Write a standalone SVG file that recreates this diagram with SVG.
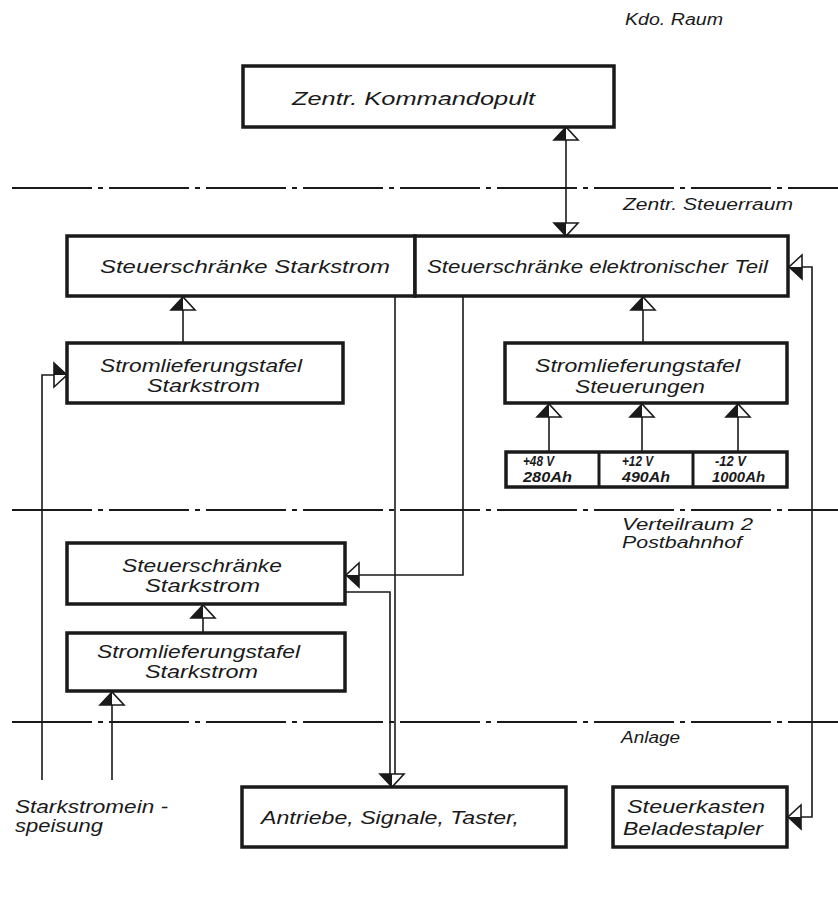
<svg xmlns="http://www.w3.org/2000/svg" xmlns:xlink="http://www.w3.org/1999/xlink" width="838" height="904" viewBox="0 0 838 904">
<style>
.bg{fill:#ffffff}
.box{fill:#ffffff;stroke:#1a1a1a;stroke-width:3.5}
.div{fill:none;stroke:#1a1a1a;stroke-width:3}
.ln{fill:none;stroke:#1a1a1a;stroke-width:1.6}
.dd{fill:none;stroke:#1a1a1a;stroke-width:2.2;stroke-dasharray:80 6 5 6}
.t{font-family:"Liberation Sans",Arial,sans-serif;font-style:italic;fill:#1a1a1a;font-size:19px}
.s{font-size:16px}
.b{font-family:"Liberation Sans",Arial,sans-serif;font-style:italic;font-weight:bold;fill:#1a1a1a;font-size:14px}
</style>
<defs>
<g id="ahUp">
<polygon points="0,0 -12,13 12,13" fill="#ffffff" stroke="#1a1a1a" stroke-width="1.6" stroke-linejoin="miter"/>
<polygon points="0,0 -12,13 0,13" fill="#1a1a1a"/>
</g>
</defs>
<rect class="bg" x="0" y="0" width="838" height="904"/>

<g id="zones">
<line class="dd" x1="12" y1="188" x2="838" y2="188"/>
<line class="dd" x1="12" y1="510" x2="838" y2="510"/>
<line class="dd" x1="12" y1="722" x2="838" y2="722"/>
<text class="t s" x="625" y="25" textLength="98" lengthAdjust="spacingAndGlyphs">Kdo. Raum</text>
<text class="t s" x="623" y="210" textLength="170" lengthAdjust="spacingAndGlyphs">Zentr. Steuerraum</text>
<text class="t s" x="622" y="530" textLength="131" lengthAdjust="spacingAndGlyphs">Verteilraum 2</text>
<text class="t s" x="622" y="548" textLength="120" lengthAdjust="spacingAndGlyphs">Postbahnhof</text>
<text class="t s" x="621" y="743" textLength="59" lengthAdjust="spacingAndGlyphs">Anlage</text>
</g>

<g id="connectors">
<line class="ln" x1="566" y1="135" x2="566" y2="228"/>
<use xlink:href="#ahUp" transform="translate(566,127)"/>
<use xlink:href="#ahUp" transform="translate(566,236) scale(1,-1)"/>
<line class="ln" x1="183" y1="343" x2="183" y2="305"/>
<use xlink:href="#ahUp" transform="translate(183,297)"/>
<polyline class="ln" points="42,780 42,375 58,375"/>
<use xlink:href="#ahUp" transform="translate(67,375) rotate(90)"/>
<line class="ln" x1="643" y1="343" x2="643" y2="305"/>
<use xlink:href="#ahUp" transform="translate(643,297)"/>
<line class="ln" x1="549" y1="452" x2="549" y2="412"/>
<use xlink:href="#ahUp" transform="translate(549,404)"/>
<line class="ln" x1="642" y1="452" x2="642" y2="412"/>
<use xlink:href="#ahUp" transform="translate(642,404)"/>
<line class="ln" x1="738" y1="452" x2="738" y2="412"/>
<use xlink:href="#ahUp" transform="translate(738,404)"/>
<polyline class="ln" points="797,267 812,267 812,817 797,817"/>
<use xlink:href="#ahUp" transform="translate(789,267) rotate(-90)"/>
<use xlink:href="#ahUp" transform="translate(788,817) rotate(-90)"/>
<polyline class="ln" points="463,297 463,575 355,575"/>
<use xlink:href="#ahUp" transform="translate(346,575) rotate(-90)"/>
<line class="ln" x1="395" y1="297" x2="395" y2="774"/>
<polyline class="ln" points="346,592 390,592 390,774"/>
<use xlink:href="#ahUp" transform="translate(392,787) scale(1,-1)"/>
<line class="ln" x1="203" y1="633" x2="203" y2="613"/>
<use xlink:href="#ahUp" transform="translate(203,605)"/>
<line class="ln" x1="112" y1="780" x2="112" y2="700"/>
<use xlink:href="#ahUp" transform="translate(112,692)"/>
</g>

<g id="n-kommandopult">
<rect class="box" x="243" y="66" width="371" height="61"/>
<text class="t" x="292" y="105" font-size="21" textLength="243" lengthAdjust="spacingAndGlyphs">Zentr. Kommandopult</text>
</g>

<g id="n-steuerschraenke-starkstrom">
<rect class="box" x="67" y="236" width="348" height="60"/>
<text class="t" x="100" y="273" textLength="290" lengthAdjust="spacingAndGlyphs">Steuerschränke Starkstrom</text>
</g>

<g id="n-steuerschraenke-elektronisch">
<rect class="box" x="415" y="236" width="373" height="60"/>
<text class="t" x="427" y="273" textLength="341" lengthAdjust="spacingAndGlyphs">Steuerschränke elektronischer Teil</text>
</g>

<g id="n-slt-starkstrom-1">
<rect class="box" x="67" y="343" width="276" height="60"/>
<text class="t" x="100" y="372" textLength="202" lengthAdjust="spacingAndGlyphs">Stromlieferungstafel</text>
<text class="t" x="147" y="392" textLength="113" lengthAdjust="spacingAndGlyphs">Starkstrom</text>
</g>

<g id="n-slt-steuerungen">
<rect class="box" x="505" y="343" width="282" height="60"/>
<text class="t" x="535" y="372" textLength="205" lengthAdjust="spacingAndGlyphs">Stromlieferungstafel</text>
<text class="t" x="575" y="393" textLength="130" lengthAdjust="spacingAndGlyphs">Steuerungen</text>
</g>

<g id="n-batterien">
<rect class="box" x="506" y="452" width="281" height="35"/>
<line class="div" x1="599" y1="452" x2="599" y2="487"/>
<line class="div" x1="693" y1="452" x2="693" y2="487"/>
<text class="b" x="523" y="466" textLength="31" lengthAdjust="spacingAndGlyphs">+48 V</text>
<text class="b" x="523" y="482" textLength="49" lengthAdjust="spacingAndGlyphs">280Ah</text>
<text class="b" x="622" y="466" textLength="31" lengthAdjust="spacingAndGlyphs">+12 V</text>
<text class="b" x="622" y="482" textLength="48" lengthAdjust="spacingAndGlyphs">490Ah</text>
<text class="b" x="715" y="466" textLength="31" lengthAdjust="spacingAndGlyphs">-12 V</text>
<text class="b" x="712" y="482" textLength="53" lengthAdjust="spacingAndGlyphs">1000Ah</text>
</g>

<g id="n-steuerschraenke-starkstrom-2">
<rect class="box" x="67" y="543" width="278" height="61"/>
<text class="t" x="122" y="572" textLength="160" lengthAdjust="spacingAndGlyphs">Steuerschränke</text>
<text class="t" x="145" y="592" textLength="115" lengthAdjust="spacingAndGlyphs">Starkstrom</text>
</g>

<g id="n-slt-starkstrom-2">
<rect class="box" x="67" y="633" width="278" height="58"/>
<text class="t" x="97" y="658" textLength="203" lengthAdjust="spacingAndGlyphs">Stromlieferungstafel</text>
<text class="t" x="145" y="678" textLength="113" lengthAdjust="spacingAndGlyphs">Starkstrom</text>
</g>

<g id="n-einspeisung">
<text class="t" x="15" y="813" textLength="153" lengthAdjust="spacingAndGlyphs">Starkstromein -</text>
<text class="t" x="15" y="832" textLength="88" lengthAdjust="spacingAndGlyphs">speisung</text>
</g>

<g id="n-antriebe">
<rect class="box" x="242" y="787" width="324" height="60"/>
<text class="t" x="261" y="824" textLength="258" lengthAdjust="spacingAndGlyphs">Antriebe, Signale, Taster,</text>
</g>

<g id="n-steuerkasten">
<rect class="box" x="613" y="787" width="174" height="60"/>
<text class="t" x="627" y="813" textLength="138" lengthAdjust="spacingAndGlyphs">Steuerkasten</text>
<text class="t" x="623" y="835" textLength="140" lengthAdjust="spacingAndGlyphs">Beladestapler</text>
</g>
</svg>
